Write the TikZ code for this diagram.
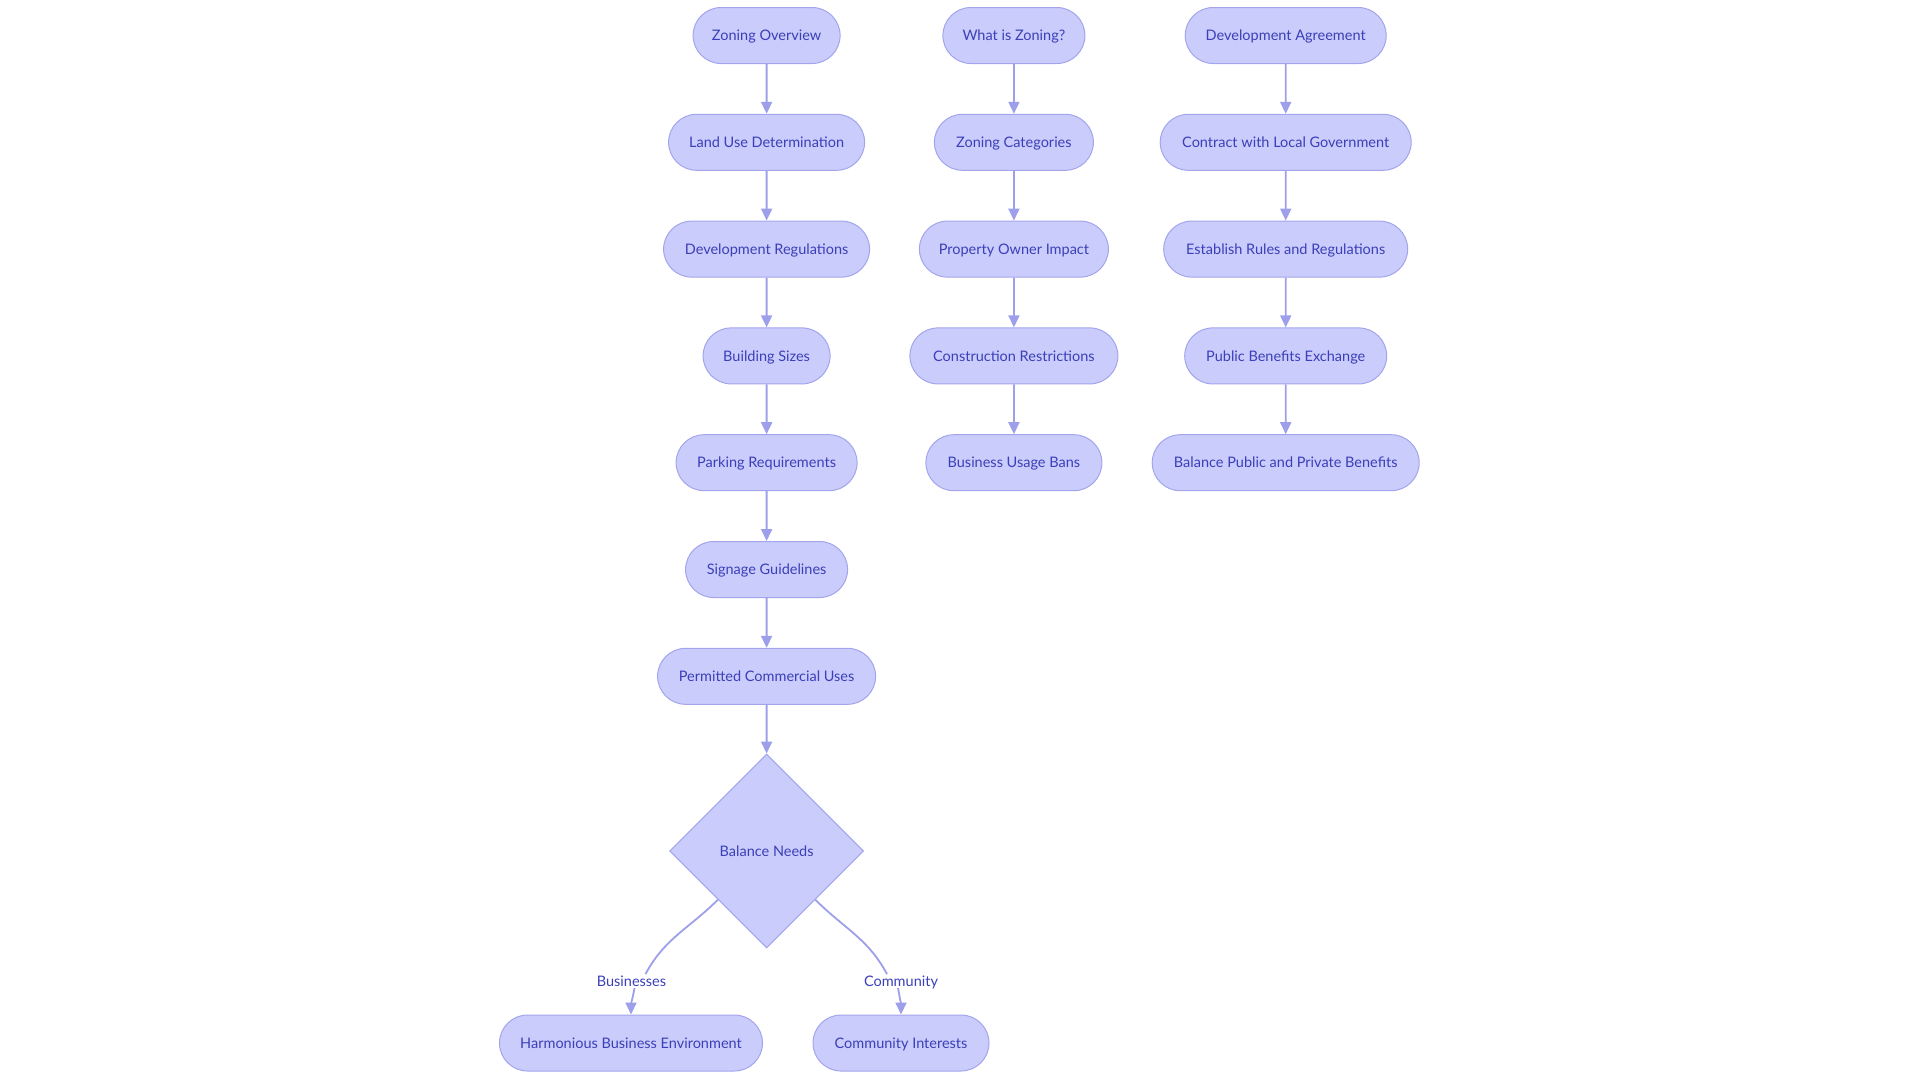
\documentclass[tikz,border=0pt]{standalone}
\usepackage{fontspec}
\setmainfont{Lato}
\usepackage{xcolor}
\usetikzlibrary{arrows.meta}
\usetikzlibrary{shapes.misc,shapes.geometric}
\usetikzlibrary{calc}
\definecolor{nodefill}{HTML}{CACCFB}
\definecolor{nodeline}{HTML}{A3A5EC}
\definecolor{nodetext}{HTML}{3B3FB8}
\definecolor{edgeline}{HTML}{9D9FEA}

\begin{document}
\begin{tikzpicture}[x=1pt, y=-1pt,
	main/.style = {rounded rectangle, draw=nodeline, fill=nodefill, text=nodetext, line width=1pt, minimum height=56pt, inner sep=0pt, text height=10.4pt, text depth=0pt, font=\fontsize{14.5}{17}\selectfont},
	choice/.style = {diamond, draw=nodeline, fill=nodefill, text=nodetext, line width=1pt, minimum size=194pt, inner sep=0pt, text height=10.4pt, text depth=0pt, font=\fontsize{14.5}{17}\selectfont},
	lbl/.style = {text=nodetext, inner sep=1pt, text height=10.4pt, text depth=0pt, font=\fontsize{14.5}{17}\selectfont},
	flow/.style = {draw=edgeline, line width=1.8pt, -{Triangle[length=12pt, width=11pt]}},
	link/.style = {draw=edgeline, line width=1.8pt}]
		\useasboundingbox (0,0) rectangle (1920,1080);
		% first column
		\node[main, minimum width=147pt] (1) at (766.6, 35.5) {Zoning Overview};
		\node[main, minimum width=196pt] (2) at (766.6, 142.3) {Land Use Determination};
		\node[main, minimum width=206pt] (3) at (766.6, 249.1) {Development Regulations};
		\node[main, minimum width=127pt] (4) at (766.6, 355.9) {Building Sizes};
		\node[main, minimum width=181pt] (5) at (766.6, 462.7) {Parking Requirements};
		\node[main, minimum width=162pt] (6) at (766.6, 569.5) {Signage Guidelines};
		\node[main, minimum width=218pt] (7) at (766.6, 676.3) {Permitted Commercial Uses};
		\node[choice] (8) at (766.6, 851) {Balance Needs};
		\node[lbl] (9) at (631.5, 981.5) {Businesses};
		\node[lbl] (10) at (901, 981.5) {Community};
		\node[main, minimum width=263pt] (11) at (631, 1043) {Harmonious Business Environment};
		\node[main, minimum width=176pt] (12) at (901, 1043) {Community Interests};
		% second column
		\node[main, minimum width=142pt] (13) at (1013.9, 35.5) {What is Zoning?};
		\node[main, minimum width=159pt] (14) at (1013.9, 142.3) {Zoning Categories};
		\node[main, minimum width=189pt] (15) at (1013.9, 249.1) {Property Owner Impact};
		\node[main, minimum width=208pt] (16) at (1013.9, 355.9) {Construction Restrictions};
		\node[main, minimum width=176pt] (17) at (1013.9, 462.7) {Business Usage Bans};
		% third column
		\node[main, minimum width=201pt] (18) at (1285.7, 35.5) {Development Agreement};
		\node[main, minimum width=251pt] (19) at (1285.7, 142.3) {Contract with Local Government};
		\node[main, minimum width=244pt] (20) at (1285.7, 249.1) {Establish Rules and Regulations};
		\node[main, minimum width=202pt] (21) at (1285.7, 355.9) {Public Benefits Exchange};
		\node[main, minimum width=267pt] (22) at (1285.7, 462.7) {Balance Public and Private Benefits};
		\draw[flow] (1) -- (2);
		\draw[flow] (2) -- (3);
		\draw[flow] (3) -- (4);
		\draw[flow] (4) -- (5);
		\draw[flow] (5) -- (6);
		\draw[flow] (6) -- (7);
		\draw[flow] (7) -- (8);
		\draw[link] (8.south west) to[out=-135, in=62] ($(9.north)+(14,-1)$);
		\draw[link] (8.south east) to[out=-45, in=118] ($(10.north)+(-14,-1)$);
		\draw[flow] ($(9.south)+(3,0)$) to[out=-100, in=90] (11);
		\draw[flow] ($(10.south)+(-3,0)$) to[out=-80, in=90] (12);
		\draw[flow] (13) -- (14);
		\draw[flow] (14) -- (15);
		\draw[flow] (15) -- (16);
		\draw[flow] (16) -- (17);
		\draw[flow] (18) -- (19);
		\draw[flow] (19) -- (20);
		\draw[flow] (20) -- (21);
		\draw[flow] (21) -- (22);
	\end{tikzpicture}
\end{document}
